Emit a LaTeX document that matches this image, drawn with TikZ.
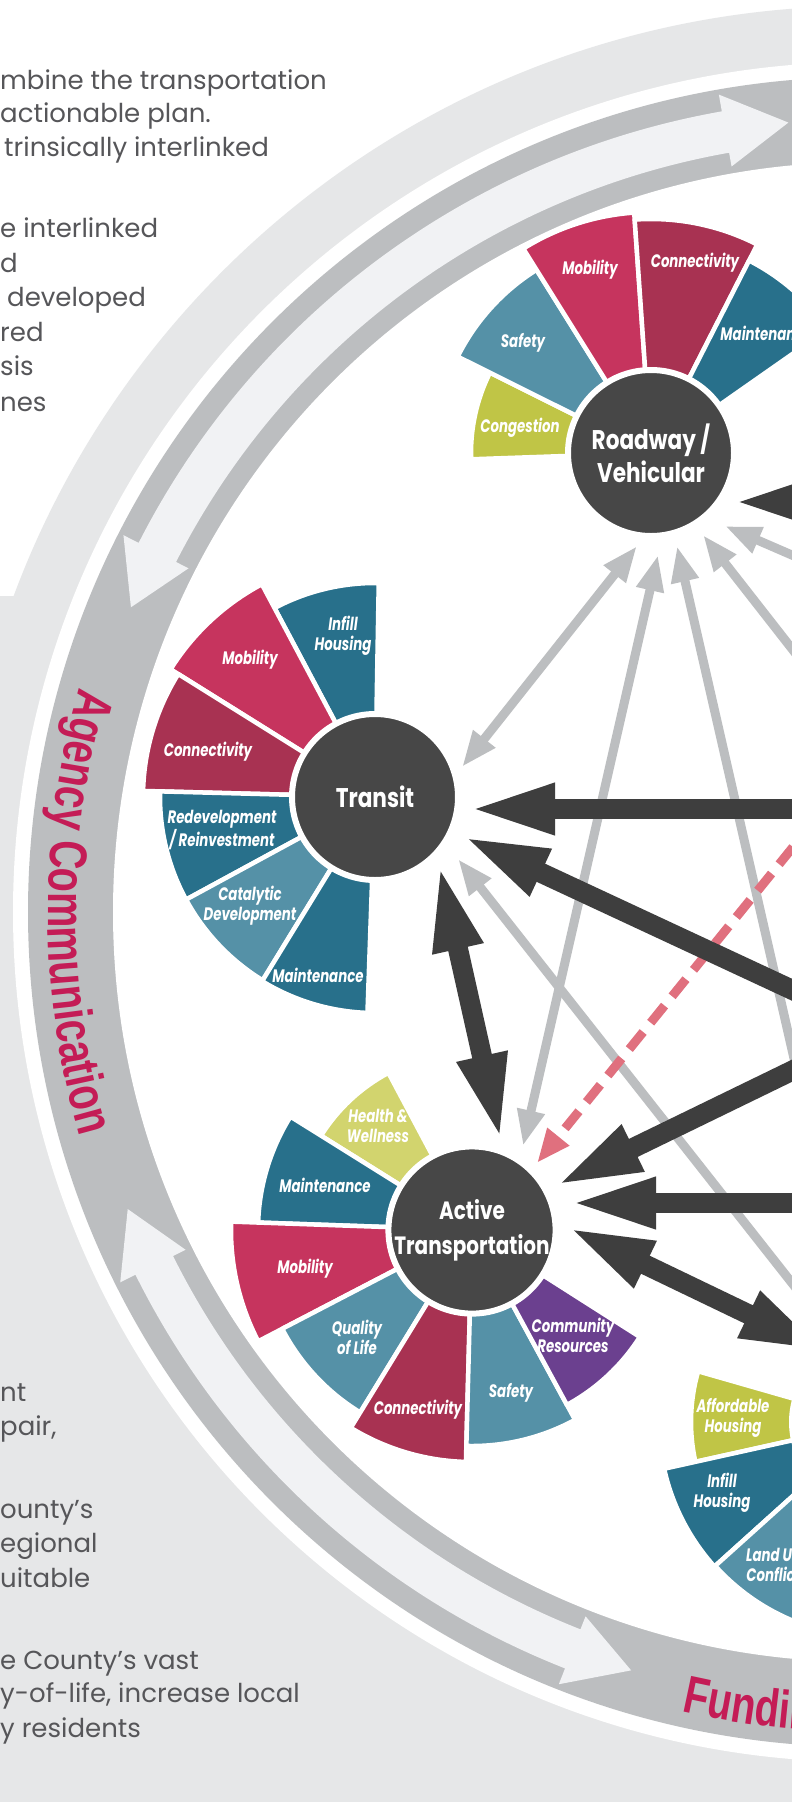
\documentclass[tikz,border=0pt]{standalone}
\usepackage{fontspec}
\usetikzlibrary{arrows.meta,calc,decorations.text}
\newfontfamily\bodyfont{Poppins}
\newfontfamily\petalfont{Poppins}[FakeStretch=0.74]
\newfontfamily\hubfont{Poppins}[FakeStretch=0.8]
\newfontfamily\ringfont{Liberation Sans}[FakeStretch=0.75]
\definecolor{pinkM}{RGB}{198,52,94}
\definecolor{maroonC}{RGB}{168,50,82}
\definecolor{tealD}{RGB}{40,112,139}
\definecolor{tealL}{RGB}{85,145,167}
\definecolor{yg}{RGB}{192,197,70}
\definecolor{ylight}{RGB}{210,212,110}
\definecolor{purp}{RGB}{107,64,143}
\definecolor{hubc}{RGB}{71,71,71}
\definecolor{darkc}{RGB}{62,62,62}
\definecolor{lightc}{RGB}{188,190,192}
\definecolor{dashc}{RGB}{224,112,126}
\definecolor{ringmed}{RGB}{188,190,192}
\definecolor{ringlight}{RGB}{241,242,244}
\definecolor{ringouter}{RGB}{230,231,232}
\definecolor{ringred}{RGB}{196,28,86}
\definecolor{bodyc}{RGB}{86,86,89}
\newcommand{\mypetal}[5]{\fill[#5,draw=white,line width=4.5pt,line join=round] (#1) -- ([shift={(#1)}]#2:#4) arc[start angle=#2,end angle=#3,radius=#4] -- cycle;}
\begin{document}
\begin{tikzpicture}[x=1pt,y=-1pt,
  hub/.style={circle,fill=hubc,draw=white,line width=6pt,minimum size=166pt,inner sep=0pt,text=white,align=center},
  plabel/.style={font=\petalfont\bfseries\itshape\fontsize{18}{20}\selectfont,text=white,align=center,inner sep=0pt},
  body/.style={font=\bodyfont\fontsize{26}{34.5}\selectfont,text=bodyc,inner sep=0pt,anchor=base west},
  darr/.style={draw=darkc,line width=20pt,-{Triangle[length=87pt,width=46pt]}},
  darrb/.style={draw=darkc,line width=20pt,{Triangle[length=87pt,width=46pt]}-{Triangle[length=87pt,width=46pt]}},
  larr/.style={draw=lightc,line width=9pt,-{Triangle[length=36pt,width=26pt]}},
  larrb/.style={draw=lightc,line width=9pt,{Triangle[length=36pt,width=26pt]}-{Triangle[length=36pt,width=26pt]}},
  parr/.style={draw=dashc,line width=9pt,dash pattern=on 22pt off 12pt,-{Triangle[length=34pt,width=26pt]}}
]
\useasboundingbox (0,0) rectangle (792,1802);
\fill[white] (0,0) rectangle (792,1802);
% left grey panel
\fill[ringouter] (0,596) rectangle (792,1802);
% ring
\coordinate (rc) at (863,912);
\fill[ringouter] (rc) circle[radius=906];
\fill[white] (rc) circle[radius=850];
\fill[ringmed] (rc) circle[radius=835];
\fill[white] (rc) circle[radius=750];
% ring arrows
\fill[ringlight] ([shift={(rc)}]207:771) arc[start angle=207,end angle=260,radius=771] -- ([shift={(rc)}]260:757) -- ([shift={(rc)}]264.6:793) -- ([shift={(rc)}]260:830) -- ([shift={(rc)}]260:813) arc[start angle=260,end angle=207,radius=813] -- ([shift={(rc)}]207:830) -- ([shift={(rc)}]202.6:793) -- ([shift={(rc)}]207:757) -- cycle;
\fill[ringlight] ([shift={(rc)}]111.5:771) arc[start angle=111.5,end angle=153.5,radius=771] -- ([shift={(rc)}]153.5:757) -- ([shift={(rc)}]158:793) -- ([shift={(rc)}]153.5:830) -- ([shift={(rc)}]153.5:813) arc[start angle=153.5,end angle=111.5,radius=813] -- ([shift={(rc)}]111.5:830) -- ([shift={(rc)}]107:793) -- ([shift={(rc)}]111.5:757) -- cycle;
% ring texts
\path[decorate,decoration={text along path,text={|\ringfont\bfseries\fontsize{53}{53}\selectfont|Agency Communication},text color=ringred,text align=center}] ([shift={(rc)}]200:815) arc[start angle=200,end angle=160,radius=815];
\path[decorate,decoration={text along path,text={|\ringfont\bfseries\fontsize{53}{53}\selectfont|Funding},text color=ringred}] ([shift={(rc)}]102.8:820) arc[start angle=102.8,end angle=50,radius=820];
% body text
\node[body] (t1) at (0,89) {mbine the transportation};
\node[body] (t2) at (0,122) {actionable plan.};
\node[body] (t3) at (4,156) {trinsically interlinked};
\node[body] (t4) at (0,237) {e interlinked};
\node[body] (t5) at (0,272) {d};
\node[body] (t6) at (7,306) {developed};
\node[body] (t7) at (0,341) {red};
\node[body] (t8) at (0,375) {sis};
\node[body] (t9) at (0,411) {nes};
\node[body] (b1) at (0,1401) {nt};
\node[body] (b2) at (0,1435) {pair,};
\node[body] (b3) at (0,1518) {ounty’s};
\node[body] (b4) at (0,1552) {egional};
\node[body] (b5) at (0,1587) {uitable};
\node[body] (b6) at (0,1669) {e County’s vast};
\node[body] (b7) at (0,1702) {y-of-life, increase local};
\node[body] (b8) at (0,1737) {y residents};
% hub centres
\coordinate (rvc) at (651,453);
\coordinate (trc) at (375,797);
\coordinate (atc) at (472,1230);
\coordinate (luc) at (875,1422);
% Roadway petals
\mypetal{rvc}{178}{206.5}{180}{yg}
\mypetal{rvc}{206.5}{238}{216}{tealL}
\mypetal{rvc}{238}{266}{241}{pinkM}
\mypetal{rvc}{266}{297}{234}{maroonC}
\mypetal{rvc}{297}{325}{216}{tealD}
\node[plabel] (rv1) at (520,428) {Congestion};
\node[plabel] (rv2) at (523,343) {Safety};
\node[plabel] (rv3) at (590,270) {Mobility};
\node[plabel] (rv4) at (695,263) {Connectivity};
\node[plabel] (rv5) at (766,333) {Maintenance};
% Transit petals
\mypetal{trc}{242}{271}{214}{tealD}
\mypetal{trc}{212}{242}{241}{pinkM}
\mypetal{trc}{181.5}{212}{232}{maroonC}
\mypetal{trc}{151.5}{181.5}{215}{tealD}
\mypetal{trc}{121.5}{151.5}{215}{tealL}
\mypetal{trc}{92}{121.5}{216}{tealD}
\node[plabel] (tr1) at (343,636) {Infill\\Housing};
\node[plabel] (tr2) at (250,660) {Mobility};
\node[plabel] (tr3) at (208,752) {Connectivity};
\node[plabel] (tr4) at (222,830) {Redevelopment\\/ Reinvestment};
\node[plabel] (tr5) at (250,906) {Catalytic\\Development};
\node[plabel] (tr6) at (318,975) {Maintenance};
% Active transportation petals
\mypetal{atc}{212}{242}{178}{ylight}
\mypetal{atc}{182}{212}{214}{tealD}
\mypetal{atc}{152.5}{182}{241}{pinkM}
\mypetal{atc}{121.5}{152.5}{214}{tealL}
\mypetal{atc}{91.5}{121.5}{232}{maroonC}
\mypetal{atc}{61.5}{91.5}{216}{tealL}
\mypetal{atc}{32.5}{61.5}{199}{purp}
\node[plabel] (at1) at (378,1126) {Health \&\\Wellness};
\node[plabel] (at2) at (325,1185) {Maintenance};
\node[plabel] (at3) at (305,1269) {Mobility};
\node[plabel] (at4) at (357,1337) {Quality\\of Life};
\node[plabel] (at5) at (418,1410) {Connectivity};
\node[plabel] (at6) at (511,1393) {Safety};
\node[plabel] (at7) at (573,1335) {Community\\Resources};
% Land use petals
\mypetal{luc}{167.5}{196}{184}{yg}
\mypetal{luc}{138}{167.5}{216}{tealD}
\mypetal{luc}{108}{138}{215}{tealL}
\node[plabel] (lu1) at (733,1418) {Affordable\\Housing};
\node[plabel] (lu2) at (722,1493) {Infill\\Housing};
\node[plabel] (lu3) at (777,1565) {Land Use\\Conflicts};
% connector end points
\coordinate (d1s) at (960,502);   \coordinate (d1t) at ($(rvc)+(81,49)$);
\coordinate (d2s) at (960,809);   \coordinate (d2t) at ($(trc)+(93,12)$);
\coordinate (d3s) at (960,1068);  \coordinate (d3t) at ($(trc)+(87,39)$);
\coordinate (d4s) at (960,989);   \coordinate (d4t) at ($(atc)+(83,-44)$);
\coordinate (d5s) at (960,1203);  \coordinate (d5t) at ($(atc)+(97,-27)$);
\coordinate (d6a) at ($(atc)+(95,-3)$); \coordinate (d6b) at ($(luc)+(-48,-70)$);
\coordinate (d7a) at ($(trc)+(64,67)$); \coordinate (d7b) at ($(atc)+(29,-89)$);
\coordinate (l1a) at ($(rvc)+(-14,93)$); \coordinate (l1b) at ($(trc)+(87,-30)$);
\coordinate (l2a) at ($(rvc)+(7,102)$);  \coordinate (l2b) at ($(atc)+(51,-84)$);
\coordinate (l3a) at ($(rvc)+(26,93)$);  \coordinate (l3b) at ($(luc)+(-19,-92)$);
\coordinate (l4a) at ($(trc)+(83,62)$);  \coordinate (l4b) at ($(luc)+(-35,-78)$);
\coordinate (l5s) at (960,628);   \coordinate (l5t) at ($(rvc)+(74,73)$);
\coordinate (l6s) at (900,787);   \coordinate (l6t) at ($(rvc)+(52,82)$);
\coordinate (p1s) at (900,715);   \coordinate (p1t) at ($(atc)+(65,-67)$);
% light connectors
\draw[larrb] (l1a) -- (l1b);
\draw[larrb] (l2a) -- (l2b);
\draw[larr] (l3b) -- (l3a);
\draw[larr] (l4b) -- (l4a);
\draw[larr] (l5s) -- (l5t);
\draw[larr] (l6s) -- (l6t);
% dashed connector
\draw[parr] (p1s) -- (p1t);
% dark connectors
\draw[darr] (d1s) -- (d1t);
\draw[darr] (d2s) -- (d2t);
\draw[darr] (d3s) -- (d3t);
\draw[darr] (d4s) -- (d4t);
\draw[darr] (d5s) -- (d5t);
\draw[darrb] (d6a) -- (d6b);
\draw[darrb] (d7a) -- (d7b);
% hubs
\node[hub,font=\hubfont\bfseries\fontsize{27}{33}\selectfont] (rv) at (rvc) {Roadway /\\Vehicular};
\node[hub,font=\hubfont\bfseries\fontsize{27}{33}\selectfont] (tr) at (trc) {Transit};
\node[hub,font=\hubfont\bfseries\fontsize{25}{35}\selectfont] (at) at (atc) {Active\\Transportation};
\node[hub] (lu) at (luc) {};
\end{tikzpicture}
\end{document}
